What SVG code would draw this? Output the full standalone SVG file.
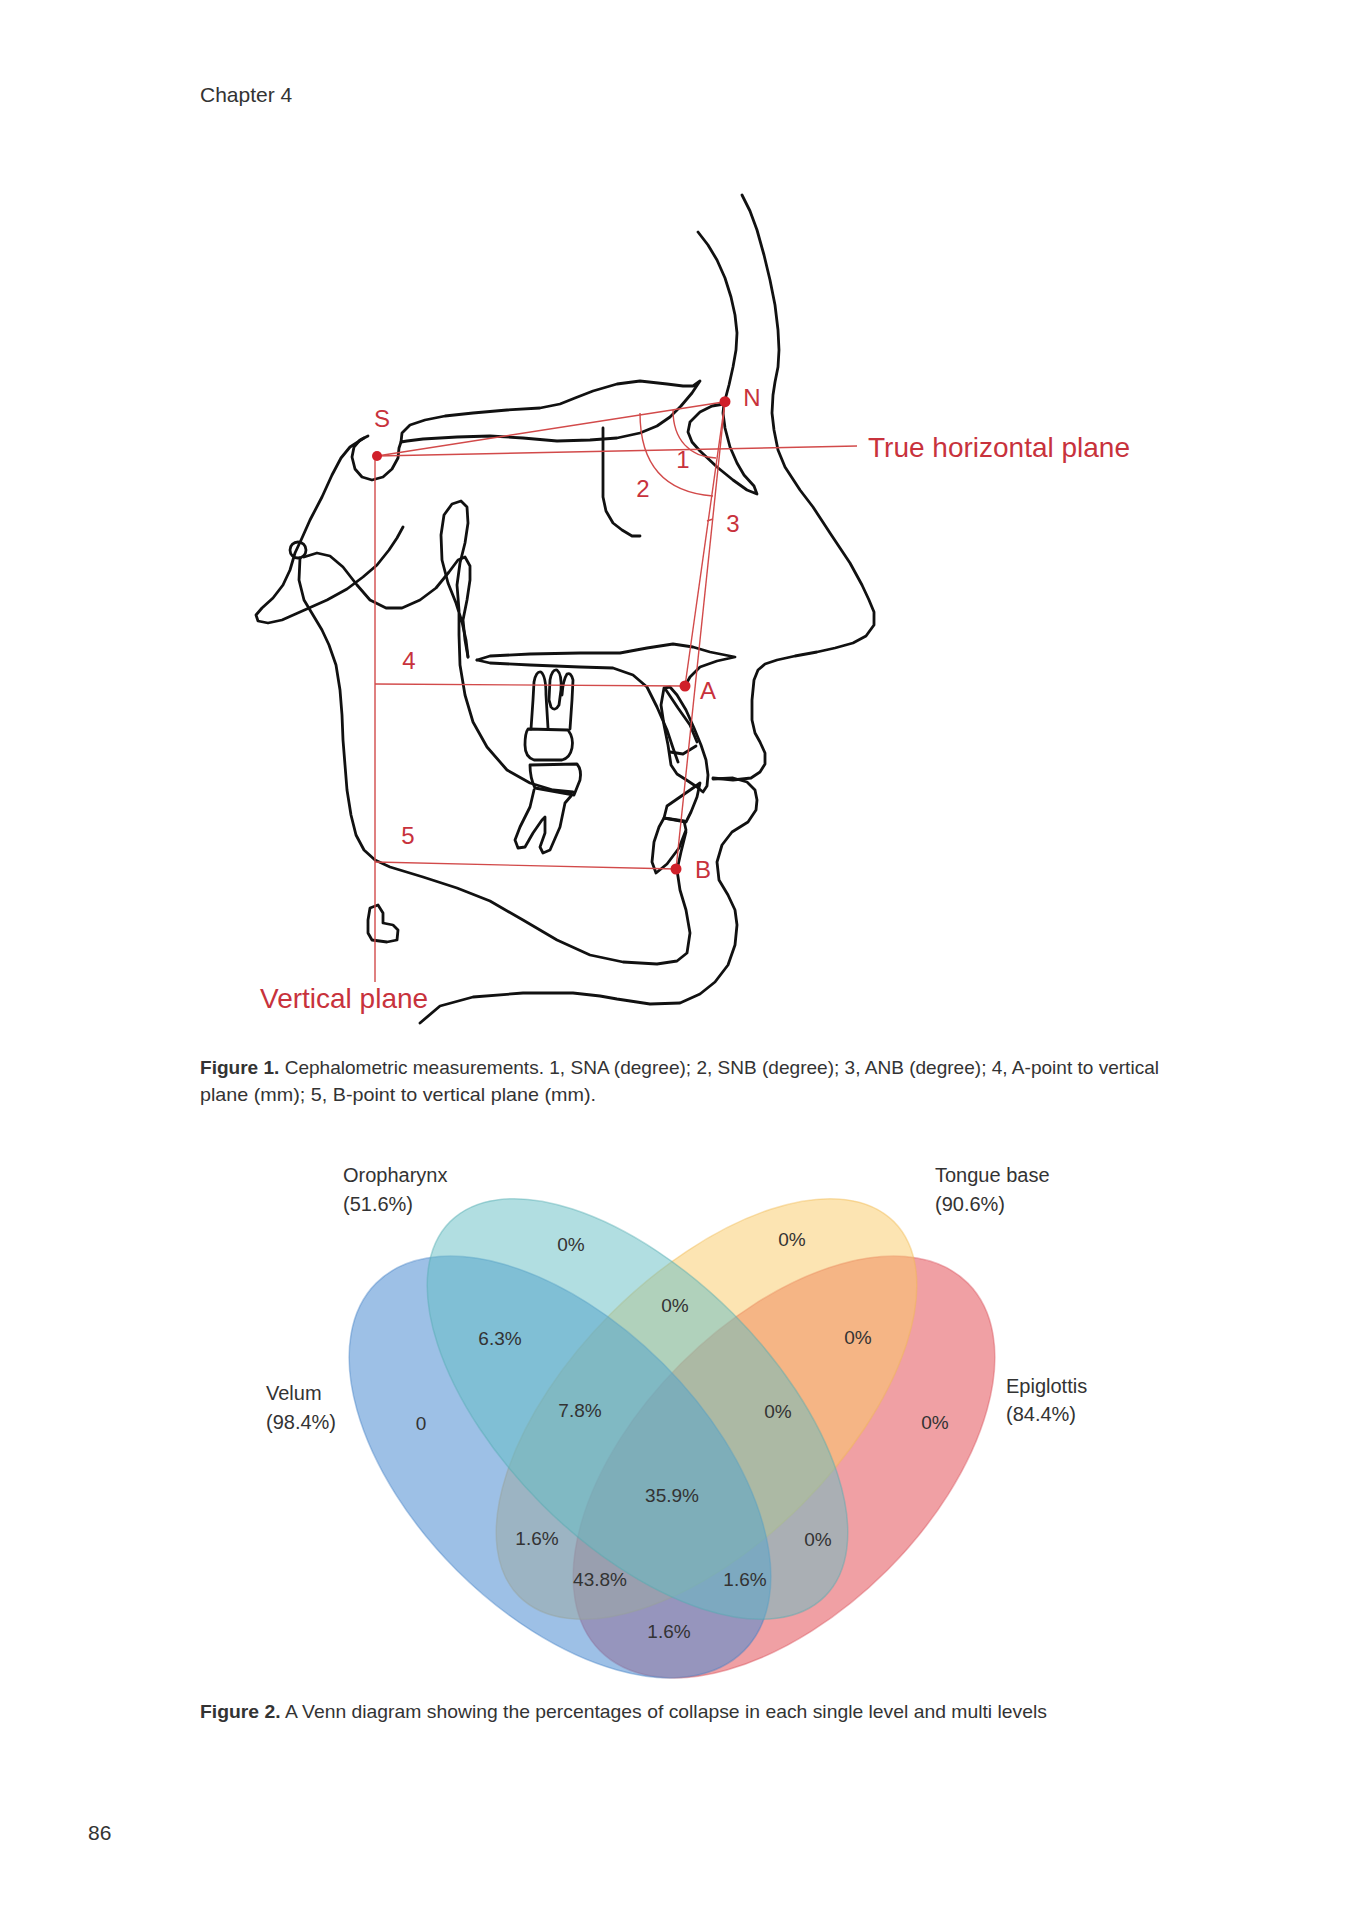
<svg xmlns="http://www.w3.org/2000/svg" width="1358" height="1920" viewBox="0 0 1358 1920">
<style>
.k{fill:none;stroke:#111;stroke-width:2.8;stroke-linecap:round;stroke-linejoin:round}
.r{fill:none;stroke:#d24a4a;stroke-width:1.4}
.dot{fill:#d0202a}
.rl{fill:#c8323c;font-family:"Liberation Sans",Arial,sans-serif;font-size:24px}
.rb{fill:#c8323c;font-family:"Liberation Sans",Arial,sans-serif;font-size:28px}
.pg{fill:#333;font-family:"Liberation Sans",Arial,sans-serif}
.cap{fill:#333;font-family:"Liberation Sans",Arial,sans-serif;font-size:19px}
.vl{fill:#333;font-family:"Liberation Sans",Arial,sans-serif;font-size:20px}
.vn{fill:#333;font-family:"Liberation Sans",Arial,sans-serif;font-size:19px;text-anchor:middle}
</style>
<rect width="1358" height="1920" fill="#fff"/>
<g id="page-text">
<text class="pg" x="200" y="102" font-size="21">Chapter 4</text>
<text class="pg" x="88" y="1840" font-size="21">86</text>
</g>
<g id="figure1">
<g id="skull-tracing">
<path class="k" d="M368,436 L360,440 L354,447 L352,457 L355,469 L362,477 L372,480 L383,477 L392,469 L398,458 L399,448 L401,442"/>
<path class="k" d="M364,438 L350,447 L341,458 L332,475 L322,497 L310,520 L302,538 L295,553 L290,570 L283,585 L273,598 L262,608 L256,615 L258,621 L268,623 L282,620 L300,612 L327,600 L347,589 L363,577 L377,565 L389,550 L397,538 L403,527"/>
<circle class="k" cx="298" cy="550" r="8"/>
<path class="k" d="M304,557 L317,553 L330,556 L343,567 L357,585 L370,600 L386,608 L402,608 L420,600 L436,588 L449,572 L458,560 L465,557 L470,566 L470,580 L467,600 L463,620 L465,640 L468,657"/>
<path class="k" d="M300,558 L299,580 L304,600 L313,615 L322,630 L329,645 L336,665 L340,690 L342,715 L343,740 L345,765 L347,790 L351,815 L356,835 L364,850 L375,860 L390,867 L423,877 L457,888 L490,901 L523,920 L557,940 L590,955 L623,962 L657,964 L677,961 L687,953 L690,933 L686,910 L680,890 L677,870"/>
<path class="k" d="M468,657 L466,640 L462,622 L456,603 L448,583 L442,560 L441,535 L444,515 L452,504 L461,501 L467,507 L468,523 L465,543 L460,563 L457,585 L459,610 L459,635 L460,665 L465,695 L473,722 L487,747 L507,770 L530,783 L553,790 L573,792"/>
<path class="k" d="M603,428 L603,463 L603,497 L606,511 L613,523 L622,530 L632,536 L640,536"/>
<path class="k" d="M401,442 L402,433 L410,425 L425,420 L445,416 L473,413 L507,410 L540,408 L560,404 L575,398 L593,391 L617,384 L640,381 L667,384 L683,386 L693,386 L700,381 L692,393 L681,406 L670,417 L657,426 L640,433 L617,438 L590,440 L557,441 L523,438 L490,436 L457,437 L423,439 L407,441 Z"/>
<path class="k" d="M724,404 L712,406 L700,412 L690,422 L688,432 L692,442 L700,451 L717,467 L733,480 L747,490 L757,494 L754,486 L744,475 L737,463 L730,447 L725,428 L723,413 L724,404"/>
<path class="k" d="M698,232 L708,245 L717,260 L725,278 L731,297 L735,315 L737,333 L736,350 L733,367 L729,385 L725,400"/>
<path class="k" d="M742,195 L750,211 L757,230 L764,255 L770,280 L775,305 L778,330 L779,350 L778,367 L775,382 L773,395 L772,413 L774,430 L778,450 L785,467 L800,490 L813,507 L830,533 L850,563 L862,585 L869,600 L874,612 L874,625 L866,636 L853,643 L835,648 L817,652 L795,656 L777,660 L765,664 L758,670 L754,680 L752,700 L752,720 L755,733 L760,742 L765,753 L765,764 L760,772 L751,778 L733,780 L713,778"/>
<path class="k" d="M713,779 L733,778 L747,782 L755,790 L757,800 L756,810 L748,822 L732,832 L722,845 L717,862 L719,880 L728,895 L735,910 L737,925 L735,945 L728,965 L715,982 L700,994 L680,1003 L650,1004 L617,999 L600,996 L573,993 L523,993 L473,997 L440,1006 L420,1023"/>
<path class="k" d="M700,783 L697,797 L691,812 L686,822 L675,820 L664,818 L667,806 L680,797 L693,788 Z"/>
<path class="k" d="M664,818 L684,821 L686,830 L679,848 L667,864 L656,873 L652,862 L654,842 L659,827 Z"/>
<path class="k" d="M664,688 L661,705 L664,725 L668,745 L671,765 L677,774 L688,781 L697,787 L703,792 L707,786 L708,775 L706,760 L701,745 L694,728 L686,710 L677,695 L670,687 Z"/>
<path class="k" d="M666,690 L678,708 L690,725 L697,742 M670,752 L683,754 L696,746"/>
<path class="k" d="M677,870 L681,852 L686,832"/>
<path class="k" d="M477,660 L490,663 L530,665 L580,667 L613,668 L633,675 L647,687 L657,707 L667,730 L673,748 L678,762"/>
<path class="k" d="M477,660 L490,656 L530,654 L580,653 L620,653 L647,648 L673,644 L693,647 L710,652 L735,657 L717,661 L700,667 L690,677 L685,686"/>
<path class="k" d="M528,729 L568,730 Q574,738 572,748 Q570,758 562,760 L534,760 Q525,757 525,745 Q525,733 528,729 Z"/>
<path class="k" d="M531,729 L533,700 L534,682 Q536,671 541,672 Q546,676 546,695 L548,728"/>
<path class="k" d="M549,700 L550,680 Q552,669 557,670 Q562,674 561,690 L559,705 Q555,712 551,707 Z"/>
<path class="k" d="M570,729 L572,700 L573,680 Q571,672 567,674 Q563,680 562,695"/>
<path class="k" d="M530,765 L577,764 Q582,770 580,780 L574,795 L535,788 Q530,778 530,765 Z"/>
<path class="k" d="M534,790 L530,807 L520,827 L515,840 L518,848 L525,847 L533,833 L542,820 L545,817 L545,833 L540,847 L543,853 L550,850 L560,827 L565,803 L571,796"/>
<path class="k" d="M370,908 L378,905 L383,913 L383,923 L393,925 L398,930 L397,940 L387,942 L372,940 L368,933 L368,920 Z"/>
</g>
<g id="measurement-lines">
<path class="r" d="M377,456 L725,401.7"/>
<path class="r" d="M377,456 L857,446"/>
<path class="r" d="M375,456 L375,982"/>
<path class="r" d="M375,684 L685,686"/>
<path class="r" d="M375,862 L676,869"/>
<path class="r" d="M725,401.7 L685,686"/>
<path class="r" d="M725,401.7 L676,869"/>
<path class="r" d="M673,410 C673,440 690,457 716,458"/>
<path class="r" d="M640,413 C640,460 660,492 713,496"/>
<path class="r" d="M707,521 L713,519"/>
</g>
<g id="landmarks">
<circle class="dot" cx="377" cy="456" r="5"/>
<circle class="dot" cx="725" cy="401.7" r="5.5"/>
<circle class="dot" cx="685" cy="686" r="5.5"/>
<circle class="dot" cx="676" cy="869" r="5.5"/>
<text class="rl" x="382" y="427" text-anchor="middle">S</text>
<text class="rl" x="752" y="406" text-anchor="middle">N</text>
<text class="rl" x="708" y="699" text-anchor="middle">A</text>
<text class="rl" x="703" y="878" text-anchor="middle">B</text>
<text class="rl" x="683" y="468" text-anchor="middle">1</text>
<text class="rl" x="643" y="497" text-anchor="middle">2</text>
<text class="rl" x="733" y="532" text-anchor="middle">3</text>
<text class="rl" x="409" y="669" text-anchor="middle">4</text>
<text class="rl" x="408" y="844" text-anchor="middle">5</text>
<text class="rb" x="868" y="457">True horizontal plane</text>
<text class="rb" x="260" y="1008">Vertical plane</text>
</g>
<text class="cap" x="200" y="1074" textLength="959" lengthAdjust="spacingAndGlyphs"><tspan font-weight="bold">Figure 1.</tspan> Cephalometric measurements. 1, SNA (degree); 2, SNB (degree); 3, ANB (degree); 4, A-point to vertical</text>
<text class="cap" x="200" y="1101" textLength="396" lengthAdjust="spacingAndGlyphs">plane (mm); 5, B-point to vertical plane (mm).</text>
</g>
<g id="figure2">
<g id="set-epiglottis"><ellipse cx="784" cy="1467" rx="260" ry="146" transform="rotate(-45 784 1467)" fill="#e4525a" fill-opacity="0.55" stroke="#d84c55" stroke-opacity="0.4" stroke-width="1.5"/></g>
<g id="set-tongue-base"><ellipse cx="706.5" cy="1409" rx="265" ry="135" transform="rotate(-45 706.5 1409)" fill="#f9c965" fill-opacity="0.5" stroke="#f0b850" stroke-opacity="0.4" stroke-width="1.5"/></g>
<g id="set-velum"><ellipse cx="560" cy="1467" rx="260" ry="146" transform="rotate(45 560 1467)" fill="#4d8cd2" fill-opacity="0.55" stroke="#3f7cc2" stroke-opacity="0.4" stroke-width="1.5"/></g>
<g id="set-oropharynx"><ellipse cx="637.5" cy="1409" rx="265" ry="135" transform="rotate(45 637.5 1409)" fill="#64bec3" fill-opacity="0.5" stroke="#50aab0" stroke-opacity="0.4" stroke-width="1.5"/></g>
<g id="set-labels">
<text class="vl" x="343" y="1182">Oropharynx</text>
<text class="vl" x="343" y="1211">(51.6%)</text>
<text class="vl" x="935" y="1182">Tongue base</text>
<text class="vl" x="935" y="1211">(90.6%)</text>
<text class="vl" x="266" y="1400">Velum</text>
<text class="vl" x="266" y="1429">(98.4%)</text>
<text class="vl" x="1006" y="1393">Epiglottis</text>
<text class="vl" x="1006" y="1421">(84.4%)</text>
</g>
<g id="region-values">
<text class="vn" x="571" y="1251">0%</text>
<text class="vn" x="792" y="1246">0%</text>
<text class="vn" x="675" y="1312">0%</text>
<text class="vn" x="500" y="1345">6.3%</text>
<text class="vn" x="858" y="1344">0%</text>
<text class="vn" x="421" y="1430">0</text>
<text class="vn" x="580" y="1417">7.8%</text>
<text class="vn" x="778" y="1418">0%</text>
<text class="vn" x="935" y="1429">0%</text>
<text class="vn" x="672" y="1502">35.9%</text>
<text class="vn" x="537" y="1545">1.6%</text>
<text class="vn" x="818" y="1546">0%</text>
<text class="vn" x="600" y="1586">43.8%</text>
<text class="vn" x="745" y="1586">1.6%</text>
<text class="vn" x="669" y="1638">1.6%</text>
</g>
<text class="cap" x="200" y="1718" textLength="847" lengthAdjust="spacingAndGlyphs"><tspan font-weight="bold">Figure 2.</tspan> A Venn diagram showing the percentages of collapse in each single level and multi levels</text>
</g>
</svg>
